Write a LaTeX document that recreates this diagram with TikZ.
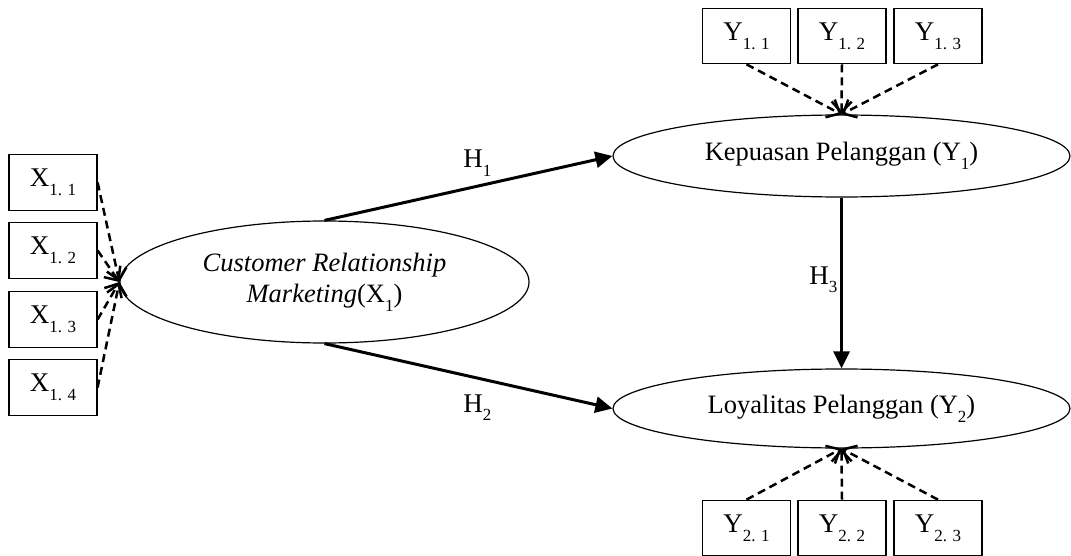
\documentclass[tikz,border=0pt]{standalone}
\usepackage{fontspec}
\setmainfont{Liberation Serif}
\usetikzlibrary{arrows.meta,shapes.geometric}
\newcommand{\lowsub}[1]{\raisebox{-0.33em}{\fontsize{8.5}{9}\selectfont #1}}
\tikzset{
  latent/.style={draw, ellipse, line width=0.6pt, inner sep=0pt, align=center, font=\fontsize{13.25}{15.5}\selectfont},
  ind/.style={draw, rectangle, line width=0.6pt, inner sep=0pt, minimum width=44pt, minimum height=27.75pt, font=\fontsize{13.5}{15}\selectfont},
  refl/.style={dash pattern=on 4pt off 2.5pt, line width=1.25pt, -{Straight Barb[length=5.5pt,width=10pt]}},
  hyp/.style={line width=1.5pt, -{Triangle[length=8.5pt,width=8pt]}},
  hlabel/.style={anchor=base west, inner sep=0pt, font=\fontsize{13.5}{15}\selectfont},
}

\begin{document}
\begin{tikzpicture}[x=0.5pt, y=-0.5pt]
  \useasboundingbox (0,0) rectangle (1071,556);

  % Latent variables
  \node[latent, minimum width=204.5pt, minimum height=61pt] (crm) at (324.5,282)
    {\textit{Customer Relationship}\\\textit{Marketing}(X\lowsub{1})};
  \node[latent, minimum width=228.5pt, minimum height=41pt] (kp) at (841.5,156)
    {Kepuasan Pelanggan (Y\lowsub{1})};
  \node[latent, minimum width=228.5pt, minimum height=39.5pt] (ly) at (841.5,408.5)
    {Loyalitas Pelanggan (Y\lowsub{2})};

  % Indicators of X1
  \foreach \i/\y in {1/182.5, 2/250.5, 3/319.5, 4/387.5} {
    \node[ind] (x\i) at (53,\y) {X\lowsub{1. \i}};
    \draw[refl] (x\i.east) -- (crm.west);
  }

  % Indicators of Y1 and Y2
  \foreach \i/\x in {1/746.5, 2/842, 3/938} {
    \node[ind] (ya\i) at (\x,36) {Y\lowsub{1. \i}};
    \draw[refl] (ya\i.south) -- (kp.north);
    \node[ind] (yb\i) at (\x,528) {Y\lowsub{2. \i}};
    \draw[refl] (yb\i.north) -- (ly.south);
  }

  % Hypotheses
  \draw[hyp] (crm.north) -- (kp.west);
  \draw[hyp] (crm.south) -- (ly.west);
  \draw[hyp] (kp.south) -- (ly.north);
  \node[hlabel] (h1) at (463,168) {H\lowsub{1}};
  \node[hlabel] (h2) at (463,412) {H\lowsub{2}};
  \node[hlabel] (h3) at (809,284) {H\lowsub{3}};
\end{tikzpicture}
\end{document}
